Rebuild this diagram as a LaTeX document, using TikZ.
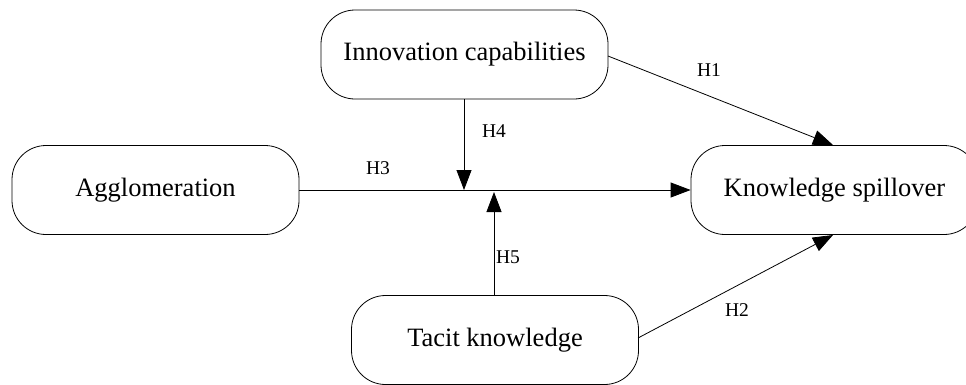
\documentclass[tikz,border=0pt]{standalone}
\usepackage{fontspec}
\setmainfont{Liberation Serif}
\usetikzlibrary{arrows.meta}
\begin{document}
\begin{tikzpicture}[x=1pt,y=-1pt,
  box/.style={draw, line width=0.8pt, rounded corners=34pt, minimum width=287pt, minimum height=89pt, font=\fontsize{26.5}{30}\selectfont, inner sep=0pt},
  conn/.style={line width=0.8pt, -{Triangle[length=20pt,width=15pt]}},
  lab/.style={font=\fontsize{19.5}{23}\selectfont, inner sep=0pt}]
\useasboundingbox (0,0) rectangle (966,384);
\clip (0,0) rectangle (966,384);
\node[box] (inn) at (464.5,54.5) {Innovation capabilities};
\node[box] (agg) at (155.5,190) {Agglomeration};
\node[box] (ks) at (834.5,190) {Knowledge spillover};
\node[box] (tk) at (495,340) {Tacit knowledge};
\coordinate (j4) at (464,190);
\coordinate (j5) at (494,192);
\coordinate (ksT) at (833,145);
\coordinate (ksB) at (833,235);
\coordinate (inE) at (608,56);
\coordinate (tkE) at (638,338);
\draw[conn] (agg.east) -- (ks.west);
\draw[conn] (inn.south -| j4) -- (j4);
\draw[conn] (tk.north -| j5) -- (j5);
\draw[conn] (inE) -- (ksT);
\draw[conn] (tkE) -- (ksB);
\node[lab] (h1) at (709,70) {H1};
\node[lab] (h2) at (737,310) {H2};
\node[lab] (h3) at (378,168) {H3};
\node[lab] (h4) at (494,131) {H4};
\node[lab] (h5) at (508,257) {H5};
\end{tikzpicture}
\end{document}
